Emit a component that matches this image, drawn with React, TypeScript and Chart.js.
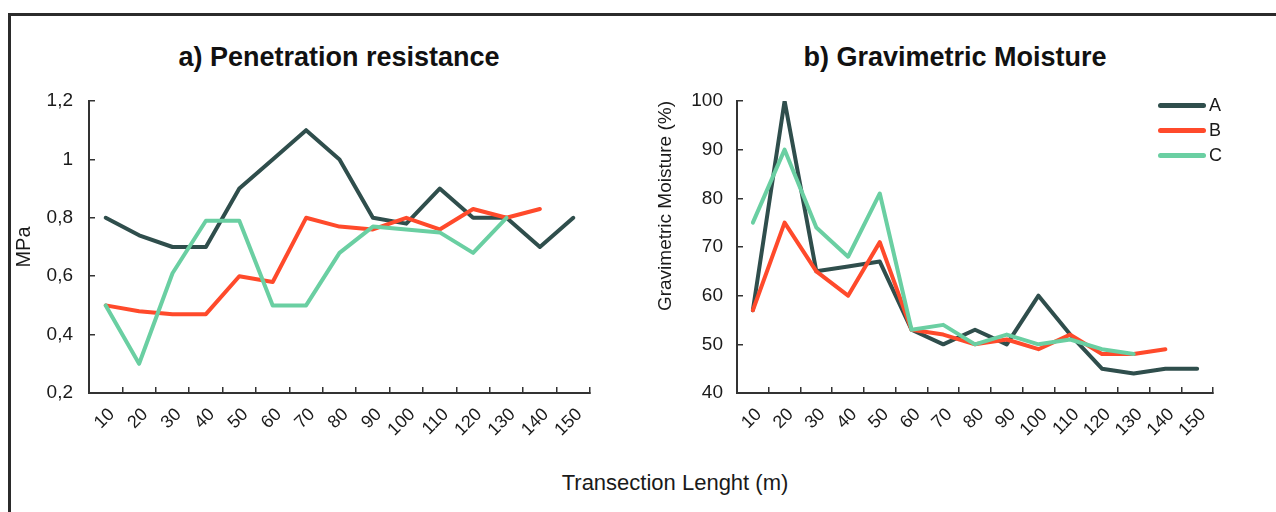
import React, { useEffect, useRef } from "react";
import { Chart, registerables } from "chart.js";

Chart.register(...registerables);

const FONT = "'Liberation Sans', Arial, Helvetica, sans-serif";
Chart.defaults.font.family = FONT;

// ---------- data ----------
const categories = ["10", "20", "30", "40", "50", "60", "70", "80", "90", "100", "110", "120", "130", "140", "150"];
const seriesNames = ["A", "B", "C"];
const seriesColors = ["#2f4e4c", "#ff4a2b", "#6acfa2"];

const penetrationA = [0.8, 0.74, 0.7, 0.7, 0.9, 1.0, 1.1, 1.0, 0.8, 0.78, 0.9, 0.8, 0.8, 0.7, 0.8];
const penetrationB = [0.5, 0.48, 0.47, 0.47, 0.6, 0.58, 0.8, 0.77, 0.76, 0.8, 0.76, 0.83, 0.8, 0.83, null];
const penetrationC = [0.5, 0.3, 0.61, 0.79, 0.79, 0.5, 0.5, 0.68, 0.77, 0.76, 0.75, 0.68, 0.8, null, null];

const moistureA = [57, 100, 65, 66, 67, 53, 50, 53, 50, 60, 52, 45, 44, 45, 45];
const moistureB = [57, 75, 65, 60, 71, 53, 52, 50, 51, 49, 52, 48, 48, 49, null];
const moistureC = [75, 90, 74, 68, 81, 53, 54, 50, 52, 50, 51, 49, 48, null, null];

const penetrationTickLabels = ["0,2", "0,4", "0,6", "0,8", "1", "1,2"];
const moistureTickLabels = ["40", "50", "60", "70", "80", "90", "100"];

const titleA = "a) Penetration resistance";
const titleB = "b) Gravimetric Moisture";
const yTitleA = "MPa";
const yTitleB = "Gravimetric Moisture (%)";
const xTitle = "Transection Lenght (m)";

const AXIS = "#333333";
const TEXT = "#1a1a1a";

type PanelCfg = {
  series: (number | null)[][];
  min: number;
  max: number;
  step: number;
  tickLabels: string[];
  yTitle: string;
  yTitleAlign: "start" | "center" | "end";
  yTitlePad: number;
  yTitleSize: number;
  yWidth: number;
  yTickPad: number;
  padRight: number;
  width: number;
  height: number;
  left: number;
  top: number;
};

function ChartPanel({ cfg }: { cfg: PanelCfg }) {
  const ref = useRef<HTMLCanvasElement | null>(null);
  useEffect(() => {
    if (!ref.current) return;
    const datasets = cfg.series.map((data, i) => ({
      label: seriesNames[i],
      data,
      borderColor: seriesColors[i],
      backgroundColor: seriesColors[i],
      borderWidth: 4,
      pointRadius: 0,
      tension: 0,
      fill: false,
      borderCapStyle: "round" as const,
      borderJoinStyle: "round" as const,
      order: cfg.series.length - 1 - i,
    }));
    const chart = new Chart(ref.current, {
      type: "line",
      data: { labels: categories, datasets },
      options: {
        animation: false,
        responsive: false,
        maintainAspectRatio: false,
        layout: { padding: { top: 41, right: cfg.padRight, bottom: 0, left: 0 } },
        plugins: {
          legend: { display: false },
          title: { display: false },
          tooltip: { enabled: false },
        },
        scales: {
          x: {
            type: "category",
            offset: true,
            grid: {
              offset: true,
              drawOnChartArea: false,
              drawTicks: true,
              tickLength: -6,
              color: AXIS,
              lineWidth: 1.5,
            },
            border: { display: true, color: AXIS, width: 2 },
            ticks: {
              autoSkip: false,
              minRotation: 45,
              maxRotation: 45,
              padding: 17,
              labelOffset: 6,
              color: TEXT,
              font: { size: 18 },
            },
            afterFit: (s: any) => {
              s.height = 67;
            },
          },
          y: {
            type: "linear",
            min: cfg.min,
            max: cfg.max,
            grid: {
              drawOnChartArea: false,
              drawTicks: true,
              tickLength: -6,
              color: AXIS,
              lineWidth: 1.5,
            },
            border: { display: true, color: AXIS, width: 2 },
            ticks: {
              stepSize: cfg.step,
              padding: cfg.yTickPad,
              color: TEXT,
              font: { size: 19 },
              callback: (_v: any, i: number) => cfg.tickLabels[i],
            },
            title: {
              display: true,
              text: cfg.yTitle,
              align: cfg.yTitleAlign,
              color: TEXT,
              font: { size: cfg.yTitleSize },
              padding: { top: cfg.yTitlePad, bottom: 0 },
            },
            afterFit: (s: any) => {
              s.width = cfg.yWidth;
            },
          },
        },
      } as any,
    });
    return () => chart.destroy();
  }, [cfg]);
  return (
    <canvas
      ref={ref}
      width={cfg.width}
      height={cfg.height}
      style={{ position: "absolute", left: cfg.left, top: cfg.top, width: cfg.width, height: cfg.height, display: "block" }}
    />
  );
}

const leftCfg: PanelCfg = {
  series: [penetrationA, penetrationB, penetrationC],
  min: 0.2,
  max: 1.2,
  step: 0.2,
  tickLabels: penetrationTickLabels,
  yTitle: yTitleA,
  yTitleAlign: "center",
  yTitlePad: 12,
  yTitleSize: 20,
  yWidth: 89,
  yTickPad: 22,
  padRight: 50,
  width: 640,
  height: 400,
  left: 0,
  top: 60,
};

const rightCfg: PanelCfg = {
  series: [moistureA, moistureB, moistureC],
  min: 40,
  max: 100,
  step: 10,
  tickLabels: moistureTickLabels,
  yTitle: yTitleB,
  yTitleAlign: "end",
  yTitlePad: 14,
  yTitleSize: 19,
  yWidth: 97,
  yTickPad: 20,
  padRight: 63,
  width: 636,
  height: 400,
  left: 640,
  top: 60,
};

function Title({ text, cx }: { text: string; cx: number }) {
  return (
    <div
      style={{
        position: "absolute",
        left: cx - 300,
        width: 600,
        top: 44,
        textAlign: "center",
        fontSize: 27,
        lineHeight: "27px",
        fontWeight: "bold",
        color: "#111",
        whiteSpace: "nowrap",
      }}
    >
      {text}
    </div>
  );
}

function Legend() {
  return (
    <div style={{ position: "absolute", left: 1158, top: 93 }}>
      {seriesNames.map((name, i) => (
        <div
          key={name}
          style={{ display: "flex", alignItems: "center", height: 25, fontSize: 18, lineHeight: "25px", color: TEXT }}
        >
          <div style={{ width: 48, height: 5, borderRadius: 3, background: seriesColors[i], marginRight: 3 }} />
          <span>{name}</span>
        </div>
      ))}
    </div>
  );
}

export default function App() {
  return (
    <div
      style={{
        position: "absolute",
        left: 0,
        top: 0,
        width: 1276,
        height: 512,
        overflow: "hidden",
        background: "#ffffff",
        fontFamily: FONT,
      }}
    >
      <div
        style={{
          position: "absolute",
          left: 8,
          top: 13,
          width: 1400,
          height: 600,
          borderTop: "3px solid #2b2b2b",
          borderLeft: "3px solid #2b2b2b",
        }}
      />
      <Title text={titleA} cx={339} />
      <Title text={titleB} cx={955} />
      <ChartPanel cfg={leftCfg} />
      <ChartPanel cfg={rightCfg} />
      <Legend />
      <div
        style={{
          position: "absolute",
          left: 675 - 200,
          width: 400,
          top: 472,
          textAlign: "center",
          fontSize: 22,
          lineHeight: "22px",
          color: TEXT,
          whiteSpace: "nowrap",
        }}
      >
        {xTitle}
      </div>
    </div>
  );
}
